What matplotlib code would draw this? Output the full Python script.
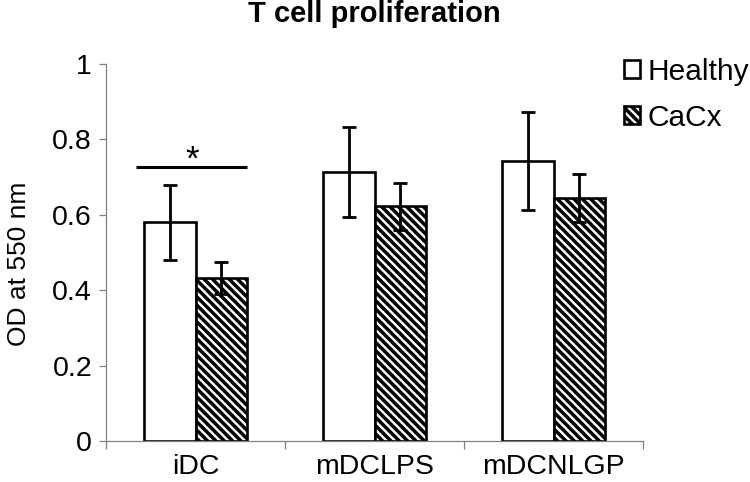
import numpy as np
import matplotlib
matplotlib.use('Agg')
import matplotlib.pyplot as plt

plt.rcParams['font.family'] = ['Liberation Sans', 'DejaVu Sans']
plt.rcParams['hatch.linewidth'] = 2.5
plt.rcParams['hatch.color'] = 'black'

# dados
categorias = ['iDC', 'mDCLPS', 'mDCNLGP']
healthy = [0.58, 0.713, 0.743]
healthy_err = [0.10, 0.12, 0.13]
cacx = [0.432, 0.623, 0.645]
cacx_err = [0.042, 0.062, 0.064]
yticks = [0, 0.2, 0.4, 0.6, 0.8, 1]
ytick_labels = ['0', '0.2', '0.4', '0.6', '0.8', '1']

fig = plt.figure(figsize=(7.5, 4.82), dpi=100)
ax = fig.add_axes([106/750, 1 - 441/482, (643 - 106)/750, (441 - 64)/482])

x = np.arange(len(categorias))
w = 0.29
ax.bar(x - w/2, healthy, w, color='white', edgecolor='black', linewidth=1.9,
       label='Healthy', zorder=2)
ax.bar(x + w/2, cacx, w, color='white', edgecolor='black', linewidth=1.9,
       hatch='\\\\\\\\', label='CaCx', zorder=2)
ax.errorbar(x - w/2, healthy, yerr=healthy_err, fmt='none', ecolor='black',
            elinewidth=2, capsize=5.2, capthick=2, zorder=3)
ax.errorbar(x + w/2, cacx, yerr=cacx_err, fmt='none', ecolor='black',
            elinewidth=2, capsize=5.2, capthick=2, zorder=3)

# marca de significancia (iDC)
ax.plot([x[0] - 0.33, x[0] + 0.285], [0.727, 0.727], color='black', lw=2.2,
        solid_capstyle='butt', clip_on=False)
ax.text(x[0] - 0.02, 0.72, '*', ha='center', va='baseline', fontsize=25)

ax.set_xlim(-0.5, len(categorias) - 0.5)
ax.set_ylim(0, 1)
ax.set_yticks(yticks)
ax.set_yticklabels(ytick_labels, fontsize=20.5)
ax.set_xticks(x)
ax.set_xticklabels(categorias, fontsize=20.5)
ax.set_xticks(np.arange(len(categorias) + 1) - 0.5, minor=True)
ax.tick_params(axis='x', which='major', length=0, pad=9.5)
ax.tick_params(axis='x', which='minor', length=6, width=0.9, color='#808080')
ax.tick_params(axis='y', length=5, width=0.9, color='#808080', pad=5)
for s in ['top', 'right']:
    ax.spines[s].set_visible(False)
for s in ['left', 'bottom']:
    ax.spines[s].set_color('#808080')
    ax.spines[s].set_linewidth(0.9)

ax.set_ylabel('OD at 550 nm', fontsize=19)
ax.yaxis.set_label_coords(-0.14, 0.47)
ax.set_title('T cell proliferation', fontsize=21, fontweight='bold', pad=30)

leg = fig.legend(loc='upper left', bbox_to_anchor=(624/750, 1 - 58/482),
                 frameon=False, fontsize=21.5, handlelength=0.55, handleheight=0.55,
                 handletextpad=0.25, labelspacing=0.6, borderpad=0,
                 borderaxespad=0)

plt.savefig('out.png', dpi=100)
